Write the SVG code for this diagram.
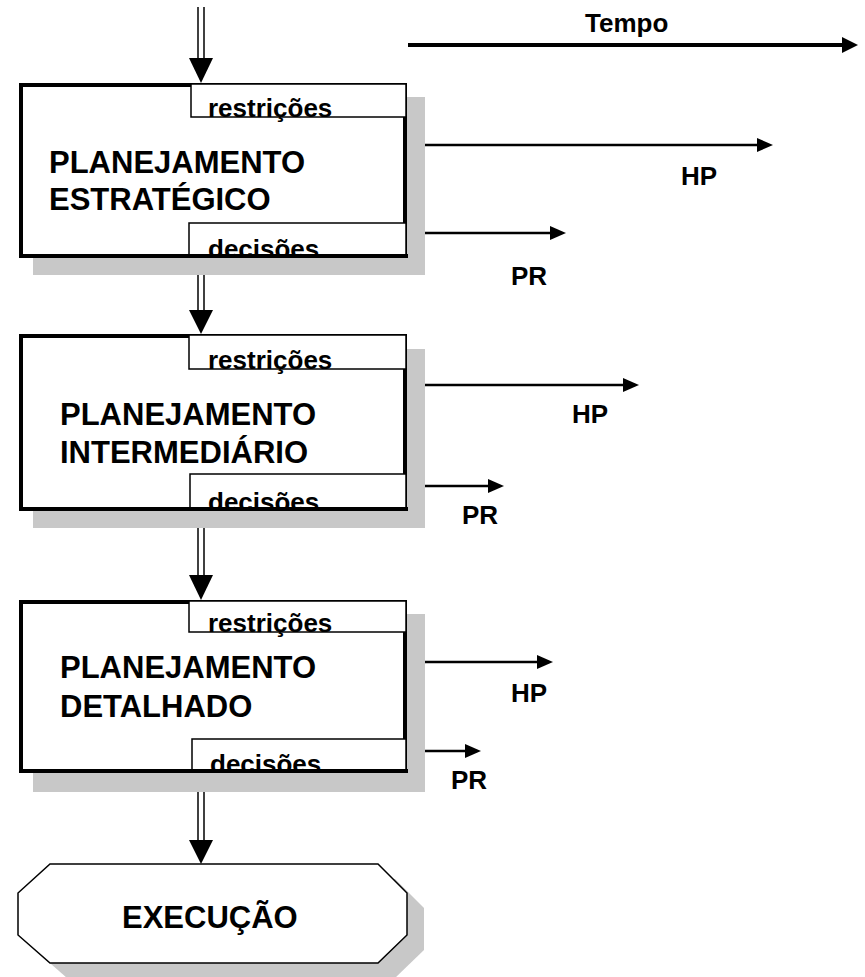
<svg xmlns="http://www.w3.org/2000/svg" width="865" height="977" viewBox="0 0 865 977">
<style>
.shadow{fill:#c8c8c8;stroke:none}
.box{fill:#fff;stroke:#000;stroke-width:4}
.tab{fill:#fff;stroke:#000;stroke-width:1.5}
.edge{stroke:#000;stroke-width:4;fill:none}
.t{font-family:"Liberation Sans",Arial,sans-serif;font-weight:bold;fill:#000}
.big{font-size:31px}
.small{font-size:26px}
.dl{stroke:#000;stroke-width:1.5;fill:none}
.ar{stroke:#000;stroke-width:2.5;fill:none}
.head{fill:#000}
</style>
<rect width="865" height="977" fill="#fff"/>

<g id="tempo">
<line x1="408" y1="45" x2="844" y2="45" stroke="#000" stroke-width="4"/>
<polygon class="head" points="842,37 858,45 842,53"/>
<text class="t small" x="585" y="32">Tempo</text>
</g>

<g id="connectors">
<line class="dl" x1="198" y1="7" x2="198" y2="60"/>
<line class="dl" x1="204" y1="7" x2="204" y2="60"/>
<polygon class="head" points="189,58 213,58 201,83"/>
<line class="dl" x1="198" y1="258" x2="198" y2="312"/>
<line class="dl" x1="204" y1="258" x2="204" y2="312"/>
<polygon class="head" points="189,310 213,310 201,334"/>
<line class="dl" x1="198" y1="511" x2="198" y2="577"/>
<line class="dl" x1="204" y1="511" x2="204" y2="577"/>
<polygon class="head" points="189,575 213,575 201,600"/>
<line class="dl" x1="198" y1="773" x2="198" y2="842"/>
<line class="dl" x1="204" y1="773" x2="204" y2="842"/>
<polygon class="head" points="189,840 213,840 201,864"/>

<line class="ar" x1="420" y1="145" x2="760" y2="145"/>
<polygon class="head" points="757,138 773,145 757,152"/>
<line class="ar" x1="420" y1="233" x2="552" y2="233"/>
<polygon class="head" points="550,226 566,233 550,240"/>
<line class="ar" x1="420" y1="385" x2="626" y2="385"/>
<polygon class="head" points="623,378 639,385 623,392"/>
<line class="ar" x1="420" y1="486" x2="490" y2="486"/>
<polygon class="head" points="488,479 504,486 488,493"/>
<line class="ar" x1="420" y1="662" x2="540" y2="662"/>
<polygon class="head" points="537,655 553,662 537,669"/>
<line class="ar" x1="420" y1="751" x2="467" y2="751"/>
<polygon class="head" points="465,744 481,751 465,758"/>
</g>

<g id="labels">
<text class="t small" x="681" y="185">HP</text>
<text class="t small" x="511" y="285">PR</text>
<text class="t small" x="572" y="423">HP</text>
<text class="t small" x="462" y="524">PR</text>
<text class="t small" x="511" y="702">HP</text>
<text class="t small" x="451" y="789">PR</text>
</g>

<g id="estrategico">
<rect class="shadow" x="33" y="97" width="392" height="178"/>
<rect class="box" x="21" y="85" width="384" height="171"/>
<rect class="tab" x="191" y="84" width="215" height="33"/>
<rect class="tab" x="189" y="223" width="217" height="33"/>
<text class="t small" x="208" y="117">restrições</text>
<text class="t small" x="208" y="258">decisões</text>
<line class="edge" x1="19" y1="256" x2="408" y2="256"/>
<text class="t big" x="49" y="173">PLANEJAMENTO</text>
<text class="t big" x="49" y="210">ESTRATÉGICO</text>
</g>

<g id="intermediario">
<rect class="shadow" x="33" y="349" width="392" height="179"/>
<rect class="box" x="21" y="336" width="384" height="173"/>
<rect class="tab" x="189" y="335" width="217" height="34"/>
<rect class="tab" x="190" y="474" width="216" height="35"/>
<text class="t small" x="208" y="369">restrições</text>
<text class="t small" x="208" y="511">decisões</text>
<line class="edge" x1="19" y1="509" x2="408" y2="509"/>
<text class="t big" x="60" y="425">PLANEJAMENTO</text>
<text class="t big" x="60" y="463">INTERMEDIÁRIO</text>
</g>

<g id="detalhado">
<rect class="shadow" x="33" y="614" width="392" height="178"/>
<rect class="box" x="21" y="602" width="384" height="169"/>
<rect class="tab" x="189" y="601" width="217" height="31"/>
<rect class="tab" x="192" y="739" width="214" height="32"/>
<text class="t small" x="208" y="632">restrições</text>
<text class="t small" x="210" y="773">decisões</text>
<line class="edge" x1="19" y1="771" x2="408" y2="771"/>
<text class="t big" x="60" y="678">PLANEJAMENTO</text>
<text class="t big" x="60" y="717">DETALHADO</text>
</g>

<g id="execucao">
<polygon class="shadow" points="67,879 395,879 424,908 424,950 395,978 67,978 35,950 35,908"/>
<polygon fill="#fff" stroke="#000" stroke-width="1.5" points="50,864 378,864 407,893 407,935 378,963 50,963 18,935 18,893"/>
<text class="t big" x="122" y="928">EXECUÇÃO</text>
</g>
</svg>
